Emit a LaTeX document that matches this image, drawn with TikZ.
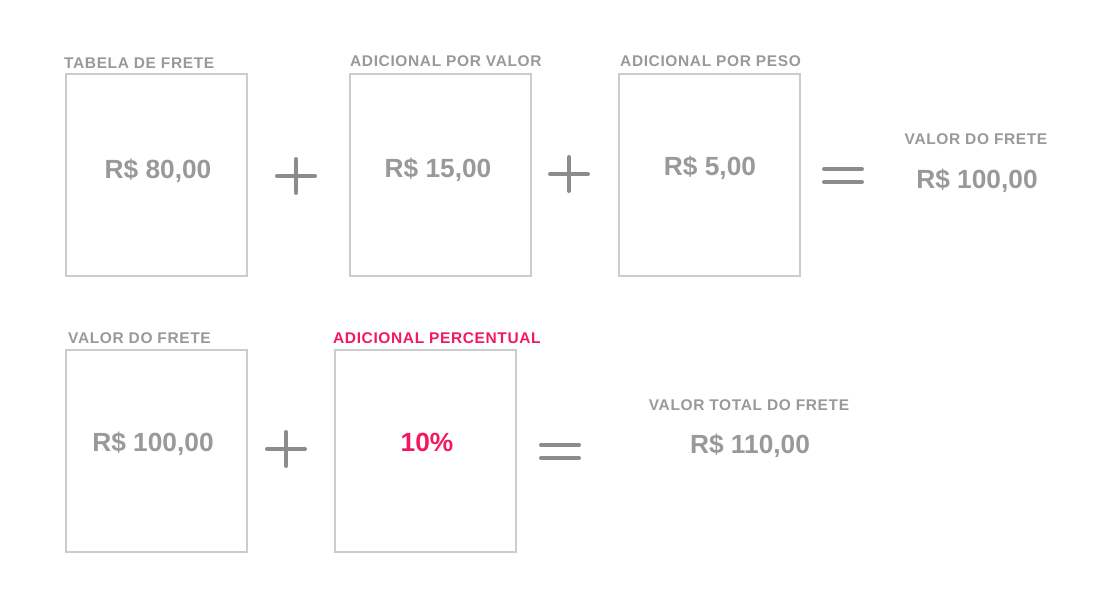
\documentclass[tikz,border=0pt]{standalone}
\usepackage{fontspec}
\setmainfont{Liberation Sans}
\usepackage{tikz}
\usetikzlibrary{positioning,calc}
\definecolor{cinzaT}{HTML}{999999}
\definecolor{cinzaB}{HTML}{CCCCCC}
\definecolor{cinzaS}{HTML}{8C8C8C}
\definecolor{rosaP}{HTML}{F2195F}
\newfontfamily\rotfont[LetterSpace=4]{Liberation Sans}
\tikzset{
  caixa/.style={rectangle, draw=cinzaB, line width=2pt, minimum width=181pt, minimum height=202pt, inner sep=0pt},
  rotulo/.style={anchor=west, inner sep=0pt, text=#1, font=\rotfont\bfseries\fontsize{15.5}{17}\selectfont},
  valor/.style={inner sep=0pt, text=#1, font=\bfseries\fontsize{26.3}{28}\selectfont},
  sinal/.style={draw=cinzaS, line width=4pt, line cap=round},
}
\newcommand{\mais}[1]{%
  \draw[sinal] ($(#1)+(-19,0)$) -- ($(#1)+(19,0)$);
  \draw[sinal] ($(#1)+(0,-17)$) -- ($(#1)+(0,17)$);}
\newcommand{\igual}[1]{%
  \draw[sinal] ($(#1)+(-19,-6.5)$) -- ($(#1)+(19,-6.5)$);
  \draw[sinal] ($(#1)+(-19,6.5)$) -- ($(#1)+(19,6.5)$);}
\begin{document}
\begin{tikzpicture}[x=1pt, y=-1pt]
  \useasboundingbox (0,0) rectangle (1114,600);
  % linha 1
  \node[caixa] (tab) at (156.5,175) {};
  \node[caixa] (adv) at (440.5,175) {};
  \node[caixa] (adp) at (709.5,175) {};
  \node[rotulo=cinzaT] (ltab) at (64,63) {TABELA DE FRETE};
  \node[rotulo=cinzaT] (ladv) at (350,61) {ADICIONAL POR VALOR};
  \node[rotulo=cinzaT] (ladp) at (620,61) {ADICIONAL POR PESO};
  \node[valor=cinzaT] (vtab) at (158,171) {R\$ 80,00};
  \node[valor=cinzaT] (vadv) at (438,170) {R\$ 15,00};
  \node[valor=cinzaT] (vadp) at (710,168) {R\$ 5,00};
  \coordinate (m1) at (296,176);
  \coordinate (m2) at (569,174);
  \coordinate (i1) at (843,175.5);
  \mais{m1} \mais{m2} \igual{i1}
  \node[rotulo=cinzaT, anchor=center] (lfr) at (976,139) {VALOR DO FRETE};
  \node[valor=cinzaT] (vfr) at (977,181) {R\$ 100,00};
  % linha 2
  \node[caixa] (fre) at (156.5,450.5) {};
  \node[caixa] (pct) at (425.5,450.5) {};
  \node[rotulo=cinzaT] (lfre) at (68,338) {VALOR DO FRETE};
  \node[rotulo=rosaP] (lpct) at (333,338) {ADICIONAL PERCENTUAL};
  \node[valor=cinzaT] (vfre) at (153,444) {R\$ 100,00};
  \node[valor=rosaP] (vpct) at (427,442) {10\%};
  \coordinate (m3) at (286,449);
  \coordinate (i2) at (560,451.5);
  \mais{m3} \igual{i2}
  \node[rotulo=cinzaT, anchor=center] (ltot) at (749,405) {VALOR TOTAL DO FRETE};
  \node[valor=cinzaT] (vtot) at (750,446) {R\$ 110,00};
\end{tikzpicture}
\end{document}
